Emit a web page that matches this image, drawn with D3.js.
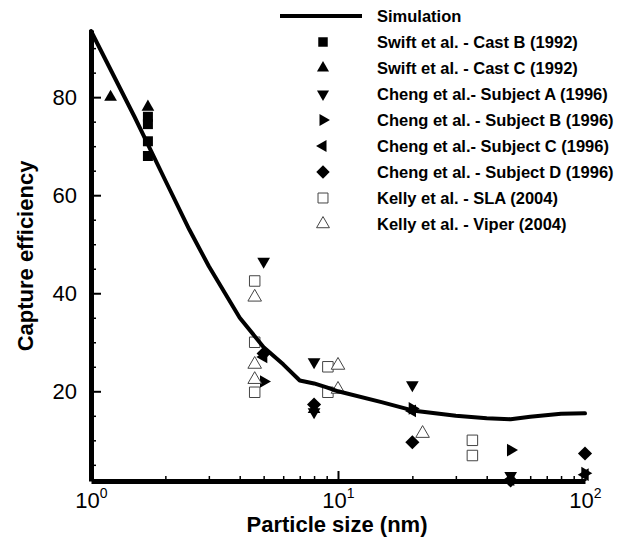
<!DOCTYPE html>
<html>
<head>
<meta charset="utf-8">
<script src="https://cdn.jsdelivr.net/npm/d3@7"></script>
<style>
  body { margin: 0; background: #fff; }
  svg { font-family: "Liberation Sans", Arial, sans-serif; }
</style>
</head>
<body>
<svg id="chart" width="629" height="539"></svg>
<script>
// Simulation curve (particle size in nm, capture efficiency)
const simX = [1, 1.5, 2, 2.5, 3, 4, 5, 6, 7, 8, 9, 10, 15, 20, 30, 40, 50, 60, 80, 100];
const simY = [93.5, 76, 63, 53, 45.5, 35, 29, 25.5, 22.2, 21.6, 20.8, 20, 17.8, 16.1, 15, 14.5, 14.3, 14.8, 15.4, 15.5];

// Measured data
const swiftBx = [1.7, 1.7, 1.7, 1.7];
const swiftBy = [76, 74.5, 71, 68];
const swiftCx = [1.2, 1.7, 8];
const swiftCy = [80, 78, 16.3];
const chengAx = [5, 8, 8, 20, 50];
const chengAy = [46.5, 26, 15.8, 21.3, 2.8];
const chengBx = [5, 20, 50, 100];
const chengBy = [22, 16.5, 8, 3.3];
const chengCx = [5, 20, 50, 100];
const chengCy = [27, 16, 2, 3];
const chengDx = [5, 8, 20, 50, 100];
const chengDy = [27.7, 17.3, 9.6, 1.8, 7.3];
const kellySx = [4.6, 4.6, 4.6, 9.1, 9.1, 35, 35];
const kellySy = [42.5, 30, 19.8, 25, 19.8, 10, 6.9];
const kellyVx = [4.6, 4.6, 4.6, 10, 10, 22];
const kellyVy = [39.2, 25.5, 22.4, 25.3, 20.4, 11.4];

const legendNames = [
  "Simulation",
  "Swift et al. - Cast B (1992)",
  "Swift et al. - Cast C (1992)",
  "Cheng et al.- Subject A (1996)",
  "Cheng et al. - Subject B (1996)",
  "Cheng et al.- Subject C (1996)",
  "Cheng et al. - Subject D (1996)",
  "Kelly et al. - SLA (2004)",
  "Kelly et al. - Viper (2004)"
];

const yMajor = [20, 40, 60, 80];
const yMinor = d3.range(5, 95, 5).filter(v => !yMajor.includes(v));
const xMajor = [1, 10, 100];
const xMinor = [2, 3, 4, 5, 6, 7, 8, 9, 20, 30, 40, 50, 60, 70, 80, 90];

const svg = d3.select("#chart");

// Scales
const x = d3.scaleLog().domain([1, 100]).range([91, 585]);
const y = d3.scaleLinear().domain([1.7, 93.7]).range([481, 30]);

// marker styles: symbol type, rotation, filled?, size
const styles = {
  swiftB: {type: d3.symbolSquare, rot: 0, fill: true, size: 100},
  swiftC: {type: d3.symbolTriangle, rot: 0, fill: true, size: 70},
  chengA: {type: d3.symbolTriangle, rot: 180, fill: true, size: 70},
  chengB: {type: d3.symbolTriangle, rot: 90, fill: true, size: 70},
  chengC: {type: d3.symbolTriangle, rot: -90, fill: true, size: 70},
  chengD: {type: d3.symbolSquare, rot: 45, fill: true, size: 100},
  kellyS: {type: d3.symbolSquare, rot: 0, fill: false, size: 110},
  kellyV: {type: d3.symbolTriangle, rot: 0, fill: false, size: 80}
};

const series = [
  {key: "swiftB", xs: swiftBx, ys: swiftBy},
  {key: "swiftC", xs: swiftCx, ys: swiftCy},
  {key: "chengA", xs: chengAx, ys: chengAy},
  {key: "chengB", xs: chengBx, ys: chengBy},
  {key: "chengC", xs: chengCx, ys: chengCy},
  {key: "chengD", xs: chengDx, ys: chengDy},
  {key: "kellyS", xs: kellySx, ys: kellySy},
  {key: "kellyV", xs: kellyVx, ys: kellyVy}
];

function drawMarker(sel, st, scale) {
  sel.attr("d", d3.symbol().type(st.type).size(st.size * (scale || 1))())
    .attr("fill", st.fill ? "#000" : "#fff")
    .attr("stroke", st.fill ? "none" : "#444")
    .attr("stroke-width", 1);
}

// Axes - Y
const yMajorAxis = d3.axisLeft(y).tickValues(yMajor).tickSize(-10).tickSizeOuter(0).tickPadding(14);
const yMinorAxis = d3.axisLeft(y).tickValues(yMinor).tickSize(-5).tickSizeOuter(0).tickFormat("");
svg.append("g").attr("transform", "translate(91,0)").call(yMinorAxis)
  .call(g => g.select(".domain").remove())
  .selectAll("line").attr("stroke-width", 1.5);
const gy = svg.append("g").attr("transform", "translate(91,0)").call(yMajorAxis);
gy.select(".domain").attr("stroke-width", 5);
gy.selectAll("line").attr("stroke-width", 2);
gy.selectAll("text").attr("font-size", 22).attr("fill", "#000");

// Axes - X
const xMajorAxis = d3.axisBottom(x).tickValues(xMajor).tickSize(-10).tickSizeOuter(0).tickFormat("");
const xMinorAxis = d3.axisBottom(x).tickValues(xMinor).tickSize(-5).tickSizeOuter(0).tickFormat("");
svg.append("g").attr("transform", "translate(0,481)").call(xMinorAxis)
  .call(g => g.select(".domain").remove())
  .selectAll("line").attr("stroke-width", 1.5);
const gx = svg.append("g").attr("transform", "translate(0,481)").call(xMajorAxis);
gx.select(".domain").attr("stroke-width", 5);
gx.selectAll("line").attr("stroke-width", 2);
gx.selectAll(".tick").append("text")
  .attr("y", 27).attr("fill", "#000").attr("font-size", 22).attr("text-anchor", "middle")
  .each(function(d) {
    const t = d3.select(this);
    t.append("tspan").text("10");
    t.append("tspan").attr("dy", -10).attr("font-size", 14).text(Math.round(Math.log10(d)));
  });

// Axis titles
svg.append("text")
  .attr("transform", "translate(33,256) rotate(-90)")
  .attr("text-anchor", "middle").attr("font-weight", "bold").attr("font-size", 22)
  .text("Capture efficiency");
svg.append("text")
  .attr("x", 337).attr("y", 532)
  .attr("text-anchor", "middle").attr("font-weight", "bold").attr("font-size", 22)
  .text("Particle size (nm)");

// Data markers
series.forEach(s => {
  const st = styles[s.key];
  svg.append("g").selectAll("path")
    .data(s.xs.map((v, i) => [v, s.ys[i]]))
    .join("path")
    .call(sel => drawMarker(sel, st))
    .attr("transform", d => `translate(${x(d[0])},${y(d[1])}) rotate(${st.rot})`);
});

// Simulation line
const line = d3.line().x(d => x(d[0])).y(d => y(d[1]));
svg.append("path")
  .datum(simX.map((v, i) => [v, simY[i]]))
  .attr("d", line)
  .attr("fill", "none").attr("stroke", "#000").attr("stroke-width", 4)
  .attr("stroke-linejoin", "round").attr("stroke-linecap", "round");

// Legend
const legend = svg.append("g");
const rowY = i => 16 + i * 26;
legend.append("line")
  .attr("x1", 280).attr("x2", 362).attr("y1", rowY(0)).attr("y2", rowY(0))
  .attr("stroke", "#000").attr("stroke-width", 4);
series.forEach((s, i) => {
  const st = styles[s.key];
  legend.append("path")
    .call(sel => drawMarker(sel, st, 0.9))
    .attr("transform", `translate(323,${rowY(i + 1)}) rotate(${st.rot})`);
});
legend.selectAll("text.leg").data(legendNames).join("text")
  .attr("class", "leg")
  .attr("x", 377).attr("y", (d, i) => rowY(i) + 6)
  .attr("font-size", 16.5).attr("font-weight", "bold")
  .text(d => d);
</script>
</body>
</html>
